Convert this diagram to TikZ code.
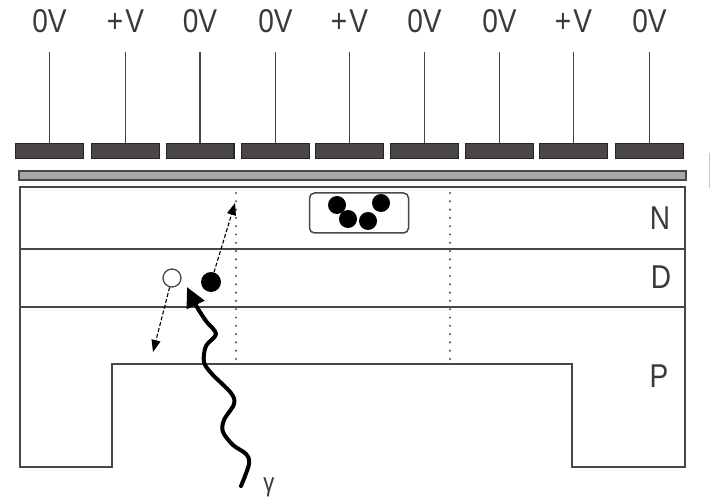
\documentclass[tikz,border=0pt]{standalone}
\usepackage{fontspec}
\setmainfont{Liberation Sans}[FakeStretch=0.85]
\usetikzlibrary{arrows.meta}
\definecolor{ink}{HTML}{4A4644}
\definecolor{pad}{HTML}{4A4646}
\definecolor{oxide}{HTML}{A8A8A8}
\definecolor{txt}{HTML}{3A3838}
\begin{document}
\begin{tikzpicture}[x=1pt,y=-1pt,
  wire/.style={draw=ink,line width=1.6pt},
  gate/.style={draw=black!85,fill=pad,line width=1.4pt,minimum width=67.6pt,minimum height=14.6pt,inner sep=0pt},
  layer/.style={draw=ink,line width=1.8pt},
  lbl/.style={text=txt,font=\fontsize{33}{33}\selectfont,anchor=base,inner sep=0pt},
  dotline/.style={draw=ink!90,line width=2.4pt,line cap=round,dash pattern=on 0pt off 8.3pt},
  charge/.style={circle,fill=black,inner sep=0pt,minimum size=18pt},
  drift/.style={draw=black,line width=1.1pt,dash pattern=on 4pt off 2pt,-{Triangle[length=12pt,width=9pt]}},
  ray/.style={draw=black,line width=4pt,line cap=round,line join=round,-{Triangle[length=20pt,width=19pt]}}
]
\useasboundingbox (0,0) rectangle (711,502);

% gate electrodes with their wires and voltage labels
\foreach \c/\t [count=\i] in {49.5/0V,125.5/+\kern2pt V,200/0V,275.5/0V,349.5/+\kern2pt V,424.5/0V,499.5/0V,573.5/+\kern2pt V,649.5/0V}{
  \node[gate] (e\i) at (\c,151) {};
  \node[lbl] (v\i) at (\c,33) {\t};
  \draw[wire] (e\i.north) -- ++(0,-91);
}

% oxide layer
\draw[draw=ink,fill=oxide,line width=1.4pt] (19,171) rectangle (686,180);

% silicon body: N, D and P regions
\draw[layer] (20,187) -- (685,187) -- (685,467) -- (572,467) -- (572,364)
  -- (112,364) -- (112,467) -- (20,467) -- cycle;
\draw[layer] (20,249) -- (685,249);
\draw[layer] (20,307) -- (685,307);

% pixel boundaries
\draw[dotline] (236,193) -- (236,364);
\draw[dotline] (450,193) -- (450,364);

% region labels
\node[lbl] (N) at (660,230) {N};
\node[lbl] (D) at (661,288) {D};
\node[lbl] (P) at (659,387) {P};

% collected charge packet
\node[draw=ink,line width=1.5pt,rounded corners=5pt,minimum width=99pt,minimum height=40pt,inner sep=0pt] (well) at (359,213) {};
\node[charge] (q1) at (337,205) {};
\node[charge] (q2) at (348,219) {};
\node[charge] (q3) at (368,221) {};
\node[charge] (q4) at (381,203) {};

% electron-hole pair
\node[charge,minimum size=20pt] (el) at (211,282) {};
\node[circle,draw=ink,line width=1.3pt,fill=white,inner sep=0pt,minimum size=18pt] (ho) at (172,278) {};
\coordinate (elto) at (235,203);
\coordinate (hoto) at (153,352);
\draw[drift] (el) -- (elto);
\draw[drift] (ho) -- (hoto);

% incoming photon
\draw[ray] plot[smooth,tension=0.55] coordinates {(241,486) (249,464) (246,454) (233,445) (223,432)
  (224,420) (234,404) (231,393) (212,374) (204,362) (206,346) (216,334) (206,321) (197,307) (187,287)};
\node[text=txt,font=\fontsize{26}{26}\selectfont,anchor=base,inner sep=0pt] (g) at (269,491) {γ};

\draw[draw=black!22,line width=1.5pt] (709.5,153) -- (709.5,188);
\end{tikzpicture}
\end{document}
